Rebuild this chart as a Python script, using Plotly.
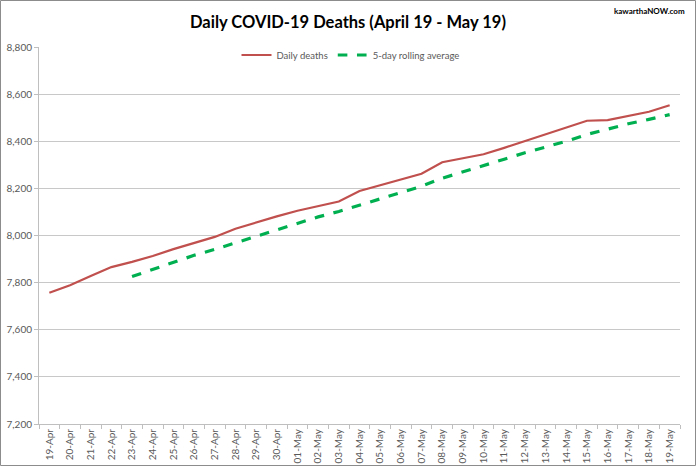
import plotly.graph_objects as go

dates = ["19-Apr", "20-Apr", "21-Apr", "22-Apr", "23-Apr", "24-Apr", "25-Apr", "26-Apr",
         "27-Apr", "28-Apr", "29-Apr", "30-Apr", "01-May", "02-May", "03-May", "04-May",
         "05-May", "06-May", "07-May", "08-May", "09-May", "10-May", "11-May", "12-May",
         "13-May", "14-May", "15-May", "16-May", "17-May", "18-May", "19-May"]

daily_deaths = [7757, 7789, 7828, 7866, 7888, 7913, 7942, 7969, 7994, 8029, 8056, 8081,
                8105, 8123, 8144, 8189, 8214, 8238, 8262, 8311, 8328, 8345, 8372, 8400,
                8428, 8457, 8487, 8490, 8508, 8525, 8553]

rolling_avg = [None, None, None, None, 7826, 7857, 7887, 7916, 7941, 7969, 7998, 8026,
               8053, 8079, 8102, 8128, 8155, 8182, 8209, 8243, 8271, 8297, 8324, 8351,
               8375, 8400, 8429, 8452, 8474, 8493, 8513]

y_ticks = [7200, 7400, 7600, 7800, 8000, 8200, 8400, 8600, 8800]

W, H = 696, 466
ml, mr, mt, mb = 39, 16, 47, 42
pw, ph = W - ml - mr, H - mt - mb

fig = go.Figure()
fig.add_trace(go.Scatter(x=dates, y=daily_deaths, mode="lines", name="Daily deaths",
                         line=dict(color="#C0504D", width=2.2)))
fig.add_trace(go.Scatter(x=dates, y=rolling_avg, mode="lines", name="5-day rolling average",
                         line=dict(color="#00B050", width=3.2, dash="dash")))

font_family = "Lato, 'Open Sans', sans-serif"

fig.update_layout(
    width=W, height=H,
    margin=dict(l=ml, r=mr, t=mt, b=mb, autoexpand=False),
    paper_bgcolor="white", plot_bgcolor="white",
    font=dict(family=font_family, color="#595959", size=10),
    title=dict(text="<b>Daily COVID-19 Deaths (April 19 - May 19)</b>",
               x=0.5, xref="container", xanchor="center",
               y=1 - 22 / H, yref="container", yanchor="middle",
               font=dict(size=16.5, color="#000000", family=font_family)),
    showlegend=True,
    hovermode=False,
    legend=dict(orientation="h", x=0.5 - 9 / pw, xanchor="center",
                y=(ph - (55 - mt)) / ph, yanchor="middle",
                font=dict(size=9.5, color="#595959"), bgcolor="rgba(0,0,0,0)",
                itemwidth=30),
    xaxis=dict(type="category", range=[-0.5, len(dates) - 0.5], tickangle=-90,
               showgrid=False, automargin=False,
               showline=True, linecolor="#bfbfbf", linewidth=1,
               ticks="outside", tickson="boundaries", ticklen=4, tickcolor="#bfbfbf",
               tickfont=dict(size=10, color="#595959")),
    yaxis=dict(range=[7200, 8800], tickvals=y_ticks, tickformat=",d", automargin=False,
               showgrid=True, gridcolor="#c8c8c8", gridwidth=1,
               showline=True, linecolor="#bfbfbf", linewidth=1,
               ticks="outside", ticklen=4, tickcolor="#bfbfbf",
               tickfont=dict(size=10, color="#595959"), zeroline=False),
    annotations=[dict(text="<b>kawarthaNOW.com</b>", xref="paper", yref="paper",
                      x=(687 - ml) / pw, y=(ph + mt - 11) / ph,
                      xanchor="right", yanchor="middle", showarrow=False,
                      font=dict(size=8, color="#000000", family=font_family))],
    shapes=[dict(type="rect", xref="paper", yref="paper",
                 x0=(0.5 - ml) / pw, x1=(W - 0.5 - ml) / pw,
                 y0=-(mb - 0.5) / ph, y1=(ph + mt - 0.5) / ph,
                 line=dict(color="#8c8c8c", width=1), fillcolor="rgba(0,0,0,0)",
                 layer="below")],
)

fig.write_html("out.html", config={"displayModeBar": False},
               post_script="document.body.style.margin='0';")
